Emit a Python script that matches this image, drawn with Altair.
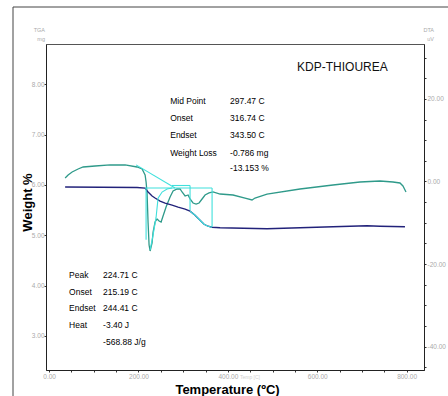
import altair as alt
import pandas as pd

# ---------------- data ----------------
# TGA (left axis, weight)
tga_T = [35.8, 196.9, 214.8, 221.5, 230.4, 237.1, 248.3, 259.5, 275.2, 288.6, 304.3,
         315.4, 326.6, 337.8, 346.8, 355.7, 364.7, 382.6, 487.7, 561.5, 635.3, 711.4,
         740.5, 796.4]
tga_w = [5.96, 5.95, 5.94, 5.86, 5.78, 5.74, 5.68, 5.64, 5.60, 5.56, 5.52,
         5.48, 5.40, 5.30, 5.22, 5.18, 5.16, 5.15, 5.13, 5.15, 5.17, 5.19,
         5.18, 5.17]

# DTA (right axis, uV)
dta_T = [35.8, 42.5, 51.5, 64.9, 76.1, 102.9, 136.5, 170.0, 196.9, 208.1, 214.8,
         217.0, 219.2, 221.5, 223.7, 226.0, 230.4, 232.7, 237.1, 241.6, 246.1, 250.6,
         255.0, 261.7, 270.7, 277.4, 286.4, 293.1, 297.5, 304.3, 311.0, 315.4, 322.1,
         328.9, 335.6, 342.3, 349.0, 357.9, 366.9, 382.6, 411.6, 438.5, 454.1, 460.8,
         487.7, 561.5, 635.3, 695.7, 740.5, 769.6, 785.2, 791.9, 798.7]
dta_v = [0.85, 1.57, 2.30, 3.03, 3.51, 3.75, 4.00, 4.00, 3.51, 3.03, 1.57,
         -0.12, -2.78, -10.05, -15.38, -16.83, -14.89, -12.23, -9.81, -9.08, -9.56, -9.81,
         -8.35, -6.17, -3.75, -2.30, -1.82, -1.82, -2.54, -3.51, -3.27, -4.24, -5.21,
         -5.45, -5.21, -4.24, -3.27, -2.78, -2.54, -3.03, -3.27, -4.00, -4.48, -4.00,
         -3.03, -1.82, -0.85, -0.12, 0.12, -0.12, -0.36, -1.09, -2.54]

# cyan analysis construction (in temperature / weight units)
seg_T1 = [194.6, 214.8, 275.0, 315.4, 364.7, 217.0]
seg_w1 = [6.40, 5.94, 5.99, 5.99, 5.94, 5.94]
seg_T2 = [281.9, 364.7, 315.4, 315.4, 364.7, 217.0]
seg_w2 = [5.94, 5.94, 5.99, 5.50, 5.17, 4.91]

cyan_curve_T = [226.0, 232.7, 239.4, 243.8, 252.8, 264.0, 275.2]
cyan_curve_w = [4.71, 5.01, 5.36, 5.74, 5.86, 5.92, 5.94]

cyan_tga_T = [315.4, 326.6, 337.8, 346.8, 355.7, 364.7]
cyan_tga_w = [5.48, 5.40, 5.30, 5.22, 5.18, 5.16]

# annotation texts
upper_labels = ["Mid Point", "Onset", "Endset", "Weight Loss", ""]
upper_values = ["297.47 C", "316.74 C", "343.50 C", "-0.786 mg", "-13.153 %"]
upper_w = [7.67, 7.33, 6.99, 6.64, 6.34]
lower_labels = ["Peak", "Onset", "Endset", "Heat", ""]
lower_values = ["224.71 C", "215.19 C", "244.41 C", "-3.40 J", "-568.88 J/g"]
lower_w = [4.21, 3.87, 3.55, 3.21, 2.88]

title_text = "KDP-THIOUREA"

# ---------------- chart ----------------
NAVY = "#22227a"
TEAL = "#2f9a8a"
CYAN = "#3fe0dc"
FONT = "Liberation Sans"

xscale = alt.Scale(domain=[-7, 839], nice=False, zero=False)
wscale = alt.Scale(domain=[2.322, 8.803], nice=False, zero=False)
vscale = alt.Scale(domain=[-45.64, 33.29], nice=False, zero=False)

xaxis = alt.Axis(
    values=list(range(0, 801, 50)),
    labelExpr="datum.value % 200 == 0 ? replace(format(datum.value, '.2f'), '\u2212', '-') : ''",
    title="Temperature (\u00baC)", titleFont=FONT, titleFontSize=13,
    titleFontWeight="bold", titleColor="black", titleX=181, titleY=19,
    titleBaseline="middle", labelFontSize=6.5, labelColor="#aaa", labelPadding=1,
    labelFont=FONT, tickSize=2, tickColor="#333", domainColor="#222",
    grid=False, labelFlush=False, labelOverlap=False)

waxis = alt.Axis(
    orient="left", values=[3, 4, 5, 6, 7, 8], format=".2f",
    title="Weight %", titleFont=FONT, titleFontSize=13,
    titleFontWeight="bold", titleColor="black", titleAngle=270,
    titleX=-19, titleY=158, titleBaseline="middle", titleAlign="center",
    labelFontSize=6.5, labelColor="#aaa", labelPadding=0, labelFont=FONT,
    tickSize=2, tickColor="#333", domainColor="#222", grid=False)

vaxis = alt.Axis(
    orient="right", values=list(range(-45, 31, 5)),
    labelExpr="datum.value % 20 == 0 ? replace(format(datum.value, '.2f'), '\u2212', '-') : ''",
    title=None, labelFontSize=6.5, labelColor="#aaa", labelPadding=1,
    labelFont=FONT, tickSize=2, tickColor="#333", domainColor="#222",
    grid=False, labelOverlap=False)

tga_df = pd.DataFrame({"T": tga_T, "w": tga_w})
dta_df = pd.DataFrame({"T": dta_T, "v": dta_v})
seg_df = pd.DataFrame({"T": seg_T1, "w": seg_w1, "T2": seg_T2, "w2": seg_w2})
cc_df = pd.DataFrame({"T": cyan_curve_T, "w": cyan_curve_w})
ct_df = pd.DataFrame({"T": cyan_tga_T, "w": cyan_tga_w})

ann_rows = []
for lab, val, w in zip(upper_labels, upper_values, upper_w):
    ann_rows.append({"T": 271, "w": w, "text": lab})
    ann_rows.append({"T": 405, "w": w, "text": val})
for lab, val, w in zip(lower_labels, lower_values, lower_w):
    ann_rows.append({"T": 44.7, "w": w, "text": lab})
    ann_rows.append({"T": 120.8, "w": w, "text": val})
ann_df = pd.DataFrame(ann_rows)
title_df = pd.DataFrame({"T": [555], "w": [8.35], "text": [title_text]})

X = lambda: alt.X("T:Q", scale=xscale, axis=xaxis)
W = lambda: alt.Y("w:Q", scale=wscale, axis=waxis)

dta_line = alt.Chart(dta_df).mark_line(color=TEAL, strokeWidth=1.3).encode(
    x=X(), y=alt.Y("v:Q", scale=vscale, axis=vaxis), order="T:Q")

tga_line = alt.Chart(tga_df).mark_line(color=NAVY, strokeWidth=1.3).encode(
    x=X(), y=W(), order="T:Q")

cyan_tga = alt.Chart(ct_df).mark_line(color=CYAN, strokeWidth=1.2).encode(
    x=X(), y=W(), order="T:Q")

cyan_curve = alt.Chart(cc_df).mark_line(color=CYAN, strokeWidth=1.1).encode(
    x=X(), y=W(), order="T:Q")

cyan_segs = alt.Chart(seg_df).mark_rule(color=CYAN, strokeWidth=1.1).encode(
    x=X(), y=W(), x2="T2:Q", y2="w2:Q")

ann = alt.Chart(ann_df).mark_text(
    align="left", baseline="middle", font=FONT, fontSize=8.5, color="black").encode(
    x=X(), y=W(), text="text:N")

title = alt.Chart(title_df).mark_text(
    align="left", baseline="middle", font=FONT, fontSize=12, color="#111").encode(
    x=X(), y=W(), text="text:N")

one = pd.DataFrame({"a": [0]})
frame_left = alt.Chart(one).mark_rule(color="#444", strokeWidth=1).encode(
    x=alt.value(-33), y=alt.value(-37), y2=alt.value(360))
frame_top = alt.Chart(one).mark_rule(color="#444", strokeWidth=1).encode(
    x=alt.value(-33), x2=alt.value(410), y=alt.value(-37))

def hdr_text(txt, x, y):
    return alt.Chart(one).mark_text(
        text=txt, align="right", baseline="middle", font=FONT,
        fontSize=5.5, color="#aaa").encode(x=alt.value(x), y=alt.value(y))

headers = alt.layer(
    hdr_text("TGA", -1, -14), hdr_text("mg", -1, -5),
    hdr_text("DTA", 388, -14), hdr_text("uV", 388, -5))

temp_faint = alt.Chart(one).mark_text(
    text="Temp [C]", align="left", baseline="middle", font=FONT,
    fontSize=5, color="#d0d0d0").encode(x=alt.value(194), y=alt.value(333))

left_group = alt.layer(tga_line, cyan_segs, cyan_curve, cyan_tga, ann, title)

chart = alt.layer(
    dta_line, left_group, frame_left, frame_top, headers, temp_faint
).resolve_scale(y="independent").properties(
    width=378, height=326,
    autosize=alt.AutoSizeParams(type="none"),
    padding={"left": 46, "top": 44, "right": 24, "bottom": 26},
    background="white",
).configure_view(stroke="#555", strokeWidth=1)

chart.save("out.html", embed_options={"renderer": "svg", "actions": False})
